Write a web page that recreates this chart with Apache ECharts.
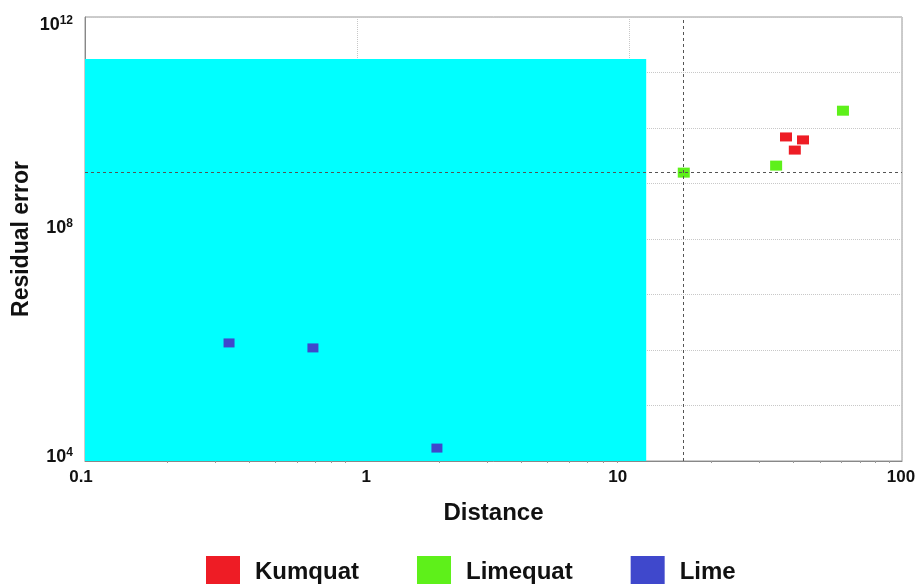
<!DOCTYPE html>
<html>
<head>
<meta charset="utf-8">
<title>Residual error vs distance</title>
<script src="https://cdn.jsdelivr.net/npm/echarts@6/dist/echarts.min.js"></script>
<style>
  html, body { margin: 0; padding: 0; background: #fff; }
  #chart { width: 918px; height: 584px; }
</style>
</head>
<body>
<div id="chart"></div>
<script>
// [distance, residual error]
var kumquat = [[37.5, 6.9e9], [40.4, 4.0e9], [43.3, 6.1e9]];
var limequat = [[15.8, 1.57e9], [34.5, 2.1e9], [60.7, 2.05e10]];
var lime = [[0.338, 1.34e6], [0.687, 1.09e6], [1.96, 1.71e4]];

var regionX = [0.1, 11.5];     // cyan region, distance range
var regionY = [1e4, 1.75e11];  // cyan region, error range
var refX = 15.7;               // vertical dashed reference
var refY = 1.6e9;              // horizontal dashed reference

var yLabelExp = [4, 8, 12];
var xTickLabels = ['0.1', '1', '10', '100'];

var FONT = 'Liberation Sans, Arial, sans-serif';

// labels in the original sit a little off their ticks
var yShift = { 4: -4, 8: -11, 12: 8 };      // px, + = down
var xShift = [-4, 9, -12, -1];              // px, + = right

var yRich = {};
yLabelExp.forEach(function (e) {
  var d = yShift[e];
  var top = d > 0 ? 2 * d : 0, bot = d < 0 ? -2 * d : 0;
  yRich['b' + e] = { fontFamily: FONT, fontWeight: 'bold', fontSize: 18, color: '#111', padding: [top, 0, bot, 0] };
  yRich['s' + e] = { fontFamily: FONT, fontWeight: 'bold', fontSize: 12, color: '#111', padding: [top, 0, bot + 9, 0] };
});
var xRich = {};
xShift.forEach(function (d, i) {
  xRich['x' + i] = {
    fontFamily: FONT, fontWeight: 'bold', fontSize: 17, color: '#111',
    padding: [0, d < 0 ? -2 * d : 0, 0, d > 0 ? 2 * d : 0]
  };
});

var chart = echarts.init(document.getElementById('chart'), null, { renderer: 'canvas' });

var option = {
  backgroundColor: '#ffffff',
  animation: false,
  grid: {
    left: 85, right: 16, top: 17, bottom: 123,
    outerBoundsMode: 'none',
    containLabel: false,
    show: true, borderColor: '#999', borderWidth: 1, backgroundColor: 'transparent'
  },
  legend: {
    data: ['Kumquat', 'Limequat', 'Lime'],
    bottom: -9,
    left: 201,
    itemWidth: 34,
    itemHeight: 32,
    itemGap: 58,
    icon: 'rect',
    textStyle: {
      fontFamily: FONT, fontWeight: 'bold', fontSize: 24, color: '#111',
      padding: [0, 0, 0, 10]
    }
  },
  xAxis: {
    type: 'log',
    logBase: 10,
    min: 0.1,
    max: 100,
    name: 'Distance',
    nameLocation: 'middle',
    nameGap: 40,
    nameTextStyle: { fontFamily: FONT, fontWeight: 'bold', fontSize: 24, color: '#111' },
    axisLine: { lineStyle: { color: '#888' } },
    axisTick: { show: false, inside: false },
    minorTick: { show: true, splitNumber: 9, length: 2, lineStyle: { color: '#999' } },
    axisLabel: {
      margin: 8,
      formatter: function (v) {
        var i = Math.round(Math.log10(v)) + 1;
        if (!xTickLabels[i]) return '';
        return '{x' + i + '|' + xTickLabels[i] + '}';
      },
      rich: xRich
    },
    splitLine: { show: true, lineStyle: { color: '#c8c8c8', type: 'dotted' } }
  },
  yAxis: {
    type: 'log',
    logBase: 10,
    min: 1e4,
    max: 1e12,
    splitNumber: 8,
    name: 'Residual error',
    nameLocation: 'middle',
    nameGap: 52,
    nameMoveOverlap: false,
    nameTextStyle: { fontFamily: FONT, fontWeight: 'bold', fontSize: 23, color: '#111' },
    axisLine: { lineStyle: { color: '#888' } },
    axisTick: { show: false },
    axisLabel: {
      margin: 12,
      formatter: function (v) {
        var e = Math.round(Math.log10(v));
        if (yLabelExp.indexOf(e) < 0) return '';
        return '{b' + e + '|10}{s' + e + '|' + e + '}';
      },
      rich: yRich
    },
    splitLine: { show: true, lineStyle: { color: '#c8c8c8', type: 'dotted' } }
  },
  series: [
    {
      name: 'region',
      type: 'scatter',
      data: [],
      z: 1,
      markArea: {
        silent: true,
        itemStyle: { color: '#00ffff', opacity: 1 },
        data: [[{ coord: [regionX[0], regionY[0]] }, { coord: [regionX[1], regionY[1]] }]]
      },
      markLine: {
        silent: true,
        symbol: 'none',
        label: { show: false },
        lineStyle: { color: '#555', type: [3, 3], width: 1 },
        data: [{ xAxis: refX }, { yAxis: refY }]
      }
    },
    {
      name: 'Kumquat',
      type: 'scatter',
      z: 3,
      symbol: 'rect',
      symbolSize: [12, 9],
      itemStyle: { color: '#ee1c25', opacity: 1 },
      data: kumquat
    },
    {
      name: 'Limequat',
      type: 'scatter',
      z: 3,
      symbol: 'rect',
      symbolSize: [12, 10],
      itemStyle: { color: '#5ef01a', opacity: 1 },
      data: limequat
    },
    {
      name: 'Lime',
      type: 'scatter',
      z: 3,
      symbol: 'rect',
      symbolSize: [11, 9],
      itemStyle: { color: '#3f48cc', opacity: 1 },
      data: lime
    }
  ]
};

chart.setOption(option);
window.addEventListener('resize', function () { chart.resize(); });
</script>
</body>
</html>
